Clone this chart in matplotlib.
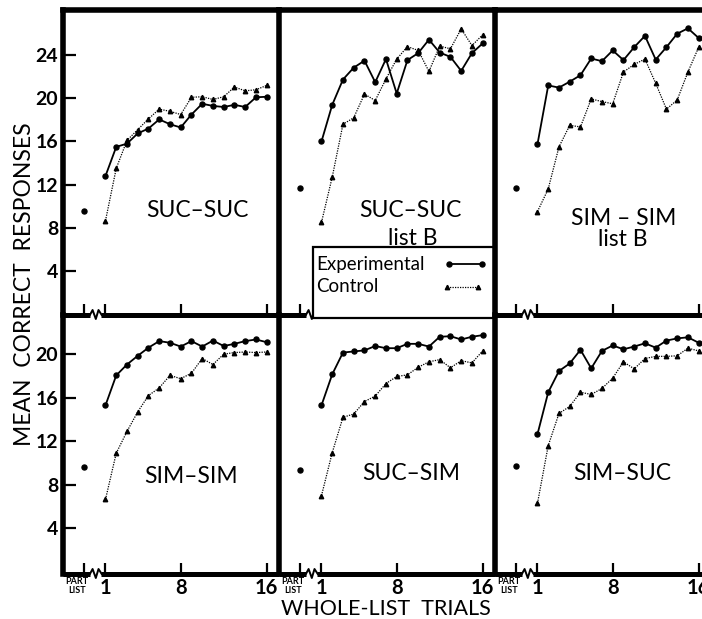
import matplotlib
matplotlib.use("Agg")
import matplotlib.pyplot as plt
from matplotlib.patches import Rectangle
from matplotlib.transforms import ScaledTranslation

# ---------------- data ----------------
trials = list(range(1, 17))
part_list_x = -1
panel_titles = ["SUC–SUC", "SUC–SUC", "SIM – SIM", "SIM–SIM", "SUC–SIM", "SIM–SUC"]
panel_subtitles = ["", "list B", "list B", "", "", ""]

exp_suc_suc = [12.8, 15.5, 15.8, 16.75, 17.2, 18.05, 17.6, 17.3, 18.5, 19.5, 19.3, 19.2, 19.4, 19.2, 20.1, 20.15]
ctl_suc_suc = [8.65, 13.5, 16.1, 17.1, 18.1, 19.0, 18.8, 18.5, 20.1, 20.15, 19.9, 20.15, 21.05, 20.7, 20.8, 21.2]

exp_suc_suc_b = [16.0, 19.4, 21.75, 22.85, 23.5, 21.5, 23.65, 20.45, 23.55, 24.2, 25.45, 24.25, 23.85, 22.55, 24.2, 25.1]
ctl_suc_suc_b = [8.5, 12.7, 17.6, 18.2, 20.4, 19.8, 21.8, 23.65, 24.8, 24.45, 22.5, 24.85, 24.6, 26.45, 24.9, 25.9]

exp_sim_sim_b = [15.75, 21.2, 21.0, 21.55, 22.15, 23.7, 23.45, 24.45, 23.55, 24.75, 25.8, 23.6, 24.75, 26.0, 26.5, 25.6]
ctl_sim_sim_b = [9.5, 11.6, 15.5, 17.5, 17.35, 19.95, 19.7, 19.5, 22.45, 23.15, 23.65, 21.4, 19.0, 19.85, 22.45, 24.75]

exp_sim_sim = [15.3, 18.05, 19.05, 19.85, 20.6, 21.2, 21.05, 20.7, 21.2, 20.7, 21.25, 20.75, 20.95, 21.2, 21.35, 21.1]
ctl_sim_sim = [6.65, 10.9, 12.9, 14.7, 16.2, 16.9, 18.05, 17.75, 18.25, 19.6, 19.05, 20.0, 20.15, 20.2, 20.15, 20.2]

exp_suc_sim = [15.3, 18.15, 20.15, 20.25, 20.35, 20.75, 20.55, 20.55, 20.95, 20.95, 20.7, 21.6, 21.65, 21.35, 21.6, 21.75]
ctl_suc_sim = [7.0, 10.95, 14.2, 14.5, 15.65, 16.15, 17.3, 17.95, 18.1, 18.8, 19.3, 19.5, 18.75, 19.4, 19.2, 20.3]

exp_sim_suc = [12.65, 16.5, 18.45, 19.15, 20.4, 18.7, 20.3, 20.8, 20.45, 20.7, 21.0, 20.6, 21.25, 21.45, 21.55, 21.05]
ctl_sim_suc = [6.3, 11.6, 14.55, 15.2, 16.5, 16.3, 16.85, 17.8, 19.3, 18.65, 19.6, 19.8, 19.8, 19.85, 20.55, 20.3]

part_list = [9.55, 11.65, 11.65, 9.65, 9.4, 9.75]

experimental = [exp_suc_suc, exp_suc_suc_b, exp_sim_sim_b, exp_sim_sim, exp_suc_sim, exp_sim_suc]
control = [ctl_suc_suc, ctl_suc_suc_b, ctl_sim_sim_b, ctl_sim_sim, ctl_suc_sim, ctl_sim_suc]

legend_labels = ["Experimental", "Control"]
xtick_vals = [-1, 1, 8, 16]
xtick_labels = ["PART\nLIST", "1", "8", "16"]
ytick_top = [4, 8, 12, 16, 20, 24]
ytick_bottom = [4, 8, 12, 16, 20]

# ---------------- layout ----------------
plt.rcParams["font.family"] = ["Lato", "DejaVu Sans"]
W, H = 702, 619
fig = plt.figure(figsize=(W / 100, H / 100), dpi=100)
fig.patch.set_facecolor("white")

col_left = [62.5, 278.5, 494.5]
col_w = 216
rows = [(10, 315), (315, 574)]
ylims = [(-0.1, 28.2), (-0.2, 23.6)]
xlim = (-3.0, 17.1)

title_pos = [(9.56, 9.64), (9.3, 9.64), (9.0, 8.9), (9.0, 8.8), (9.37, 9.0), (8.9, 9.08)]
sub_pos = [None, (9.47, 7.0), (8.9, 6.9), None, None, None]

EXP_STYLE = dict(linestyle="-", lw=1.3, color="k", marker="o", markersize=3.6)
CTL_STYLE = dict(linestyle=(0, (1, 1)), lw=0.9, color="k", marker="^", markersize=3.2)

SPINE = 4.0
axes = []
for r in range(2):
    y0, y1 = rows[r]
    for c in range(3):
        i = r * 3 + c
        ax = fig.add_axes([col_left[c] / W, 1 - y1 / H, col_w / W, (y1 - y0) / H])
        axes.append(ax)
        ax.set_xlim(*xlim)
        ax.set_ylim(*ylims[r])
        ax.patch.set_alpha(0)

        ax.spines["left"].set_linewidth(SPINE)
        ax.spines["right"].set_visible(c == 2)
        ax.spines["right"].set_linewidth(SPINE)
        ax.spines["top"].set_visible(r == 0)
        ax.spines["top"].set_linewidth(SPINE)
        ax.spines["bottom"].set_visible(False)

        # bottom axis line with break
        tr = ax.get_xaxis_transform()
        ax.plot([xlim[0], -0.4], [0, 0], transform=tr, color="k", lw=3.6,
                clip_on=False, solid_capstyle="butt", zorder=5)
        ax.plot([0.6, xlim[1]], [0, 0], transform=tr, color="k", lw=3.6,
                clip_on=False, solid_capstyle="butt", zorder=5)
        hpx = y1 - y0
        zx = [-0.45, -0.2, 0.1, 0.35, 0.65]
        zy = [0, 5 / hpx, -4 / hpx, 5 / hpx, 0]
        ax.plot(zx, zy, transform=tr, color="k", lw=1.4, clip_on=False, zorder=5)

        # x ticks
        ax.set_xticks(xtick_vals)
        ax.tick_params(axis="x", direction="in", length=8, width=1.6,
                       bottom=True, top=False, labelbottom=(r == 1), pad=3)
        if r == 1:
            ax.set_xticklabels(xtick_labels)
            labs = ax.get_xticklabels()
            for lab in labs:
                lab.set_fontweight("bold")
                lab.set_fontsize(14.5)
            labs[0].set_fontsize(6.5)
            labs[0].set_linespacing(0.95)
            labs[0].set_transform(labs[0].get_transform() +
                                  ScaledTranslation(-7 / 100, 1 / 100, fig.dpi_scale_trans))

        # y ticks
        if c == 0:
            ax.set_yticks(ytick_top if r == 0 else ytick_bottom)
            ax.tick_params(axis="y", direction="in", length=9, width=1.6,
                           pad=3, labelsize=14, right=False)
            for lab in ax.get_yticklabels():
                lab.set_fontweight("bold")
        else:
            ax.set_yticks([])

        # data
        ax.plot(trials, control[i], zorder=3, **CTL_STYLE)
        ax.plot(trials, experimental[i], zorder=4, **EXP_STYLE)
        ax.plot([part_list_x], [part_list[i]], linestyle="none", marker="o",
                markersize=3.6, color="k", zorder=4)

        # panel labels
        tx, ty = title_pos[i]
        ax.text(tx, ty, panel_titles[i], ha="center", va="center", fontsize=16.5)
        if sub_pos[i] is not None:
            sx, sy = sub_pos[i]
            ax.text(sx, sy, panel_subtitles[i], ha="center", va="center", fontsize=16.5)

# legend box in panel 2 (label first, line sample after it)
ax = axes[1]
ax.add_patch(Rectangle((0.16, -0.01), 0.84, 0.232, transform=ax.transAxes,
                       facecolor="white", edgecolor="k", lw=1.6, zorder=6,
                       clip_on=False))
ax.text(0.175, 0.167, legend_labels[0], transform=ax.transAxes, ha="left",
        va="center", fontsize=13.5, zorder=7)
ax.text(0.175, 0.092, legend_labels[1], transform=ax.transAxes, ha="left",
        va="center", fontsize=13.5, zorder=7)
ax.plot([0.79, 0.94], [0.167, 0.167], transform=ax.transAxes, zorder=7,
        clip_on=False, **EXP_STYLE)
ax.plot([0.78, 0.925], [0.092, 0.092], transform=ax.transAxes, zorder=7,
        clip_on=False, **CTL_STYLE)

fig.text(25 / W, 1 - 284 / H, "MEAN  CORRECT  RESPONSES", rotation=90,
         ha="center", va="center", fontsize=16.5)
fig.text(386 / W, 1 - 609 / H, "WHOLE-LIST  TRIALS", ha="center", va="center",
         fontsize=15.5)

fig.savefig("out.png", dpi=100, facecolor="white")
